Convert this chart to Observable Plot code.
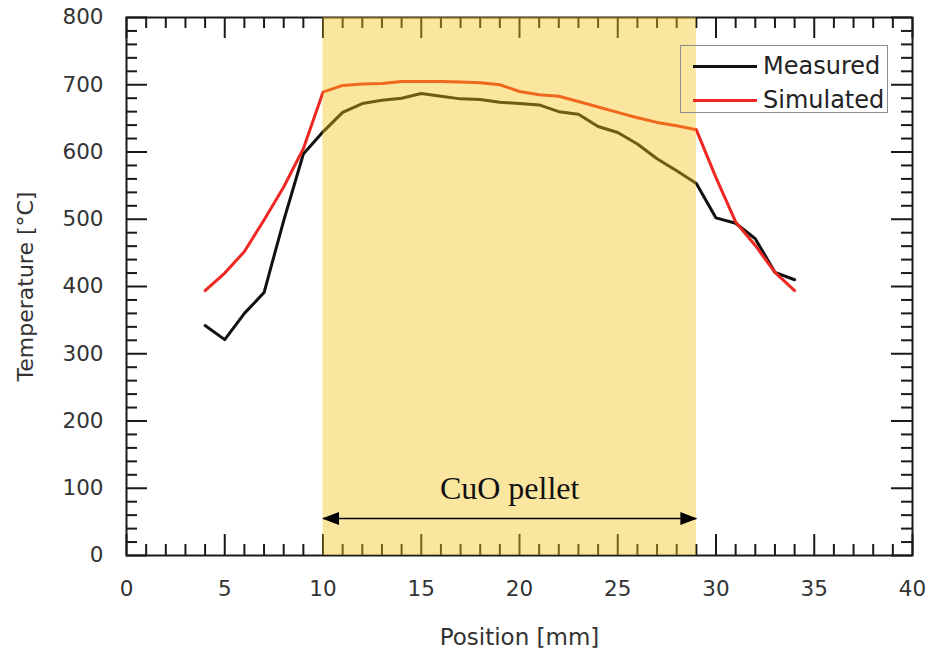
<!DOCTYPE html>
<html>
<head>
<meta charset="utf-8">
<script src="https://cdn.jsdelivr.net/npm/d3@7"></script>
<script src="https://cdn.jsdelivr.net/npm/@observablehq/plot@0.6"></script>
<style>
  html, body { margin: 0; padding: 0; background: #fff; }
  #wrap { position: relative; width: 929px; height: 653px; }
  #legend {
    position: absolute; left: 680px; top: 45px; width: 208px; height: 68px;
    box-sizing: border-box; border: 1.5px solid #8c8c8c;
    font-family: "DejaVu Sans", sans-serif; font-size: 24px; color: #222;
  }
  #legend .row { position: absolute; left: 0; right: 0; height: 34px; }
  #legend .sw { position: absolute; left: 12px; top: 15.5px; width: 64px; height: 0; border-top: 3px solid; }
  #legend .lab { position: absolute; left: 82px; top: 0; line-height: 34px; white-space: nowrap; }
</style>
</head>
<body>
<div id="wrap"></div>
<script>
// ---- data ----
const positions = [4, 5, 6, 7, 8, 9, 10, 11, 12, 13, 14, 15, 16, 17, 18, 19, 20, 21, 22, 23, 24, 25, 26, 27, 28, 29, 30, 31, 32, 33, 34];
const measured  = [342, 321, 360, 391, 498, 597, 630, 659, 672, 677, 680, 687, 683, 679, 678, 674, 672, 670, 660, 656, 638, 629, 612, 590, 572, 553, 502, 494, 471, 421, 410];
const simulated = [394, 420, 452, 499, 548, 605, 689, 699, 701, 702, 705, 705, 705, 704, 703, 700, 690, 685, 683, 675, 667, 659, 651, 644, 639, 633, 562, 496, 461, 421, 394];
const seriesNames = ["Measured", "Simulated"];
const seriesColors = ["#111111", "#ee2722"];

// CuO pellet region annotation
const pelletStart = 10;
const pelletEnd = 29;
const pelletArrowTemp = 55;
const pelletLabelTemp = 100;
const pelletLabel = "CuO pellet";

// axis ticks
const xTickLabels = [0, 5, 10, 15, 20, 25, 30, 35, 40];
const yTickLabels = [0, 100, 200, 300, 400, 500, 600, 700, 800];
const xMinorTicks = d3.range(0, 41, 1).filter(v => v % 5 !== 0);
const yMinorTicks = d3.range(0, 801, 20).filter(v => v % 100 !== 0);
const xLabel = "Position [mm]";
const yLabel = "Temperature [°C]";

// ---- build table ----
const rows = positions.map((p, i) => ({pos: p, measured: measured[i], simulated: simulated[i]}));
const pellet = [{x1: pelletStart, x2: pelletEnd, mid: (pelletStart + pelletEnd) / 2,
                 arrowY: pelletArrowTemp, labelY: pelletLabelTemp, text: pelletLabel}];

function triangleMarker(color) {
  const m = d3.create("svg:marker")
    .attr("viewBox", "0 -6.5 17 13")
    .attr("markerWidth", 17).attr("markerHeight", 13)
    .attr("markerUnits", "userSpaceOnUse")
    .attr("refX", 16).attr("refY", 0)
    .attr("orient", "auto-start-reverse");
  m.append("path").attr("d", "M0,-6.5L17,0L0,6.5Z").attr("fill", color).attr("stroke", "none");
  return m.node();
}

// layout
const W = 929, H = 653, ML = 126, MR = 17, MT = 17, MB = 98;
const frameW = W - ML - MR, frameH = H - MT - MB;
const MAJOR = 21, MINOR = 11;

// inward tick marks on all four sides: rules spanning the frame, inset to tick length
const axisColor = "#1a1a1a";
const tickStyle = {stroke: axisColor, strokeWidth: 2};
const tickMarks = [];
for (const [data, len] of [[xTickLabels, MAJOR], [xMinorTicks, MINOR]]) {
  tickMarks.push(Plot.ruleX(data, {x: d => d, insetTop: frameH - len, ...tickStyle}));
  tickMarks.push(Plot.ruleX(data, {x: d => d, insetBottom: frameH - len, ...tickStyle}));
}
for (const [data, len] of [[yTickLabels, MAJOR], [yMinorTicks, MINOR]]) {
  tickMarks.push(Plot.ruleY(data, {y: d => d, insetRight: frameW - len, ...tickStyle}));
  tickMarks.push(Plot.ruleY(data, {y: d => d, insetLeft: frameW - len, ...tickStyle}));
}

const chart = Plot.plot({
  width: W,
  height: H,
  marginLeft: ML,
  marginRight: MR,
  marginTop: MT,
  marginBottom: MB,
  x: {domain: [0, 40]},
  y: {domain: [0, 800]},
  style: {fontFamily: "DejaVu Sans, sans-serif", background: "white", color: "#333", overflow: "visible"},
  marks: [
    ...tickMarks,
    Plot.frame({stroke: axisColor, strokeWidth: 2}),
    Plot.axisX({anchor: "bottom", ticks: xTickLabels, tickSize: 0, tickPadding: 25, fontSize: 21.5, fill: "#333", tickFormat: d => String(d), label: null}),
    Plot.axisY({anchor: "left", ticks: yTickLabels, tickSize: 0, tickPadding: 23, fontSize: 21.5, fill: "#333", tickFormat: d => String(d), label: null}),
    Plot.axisX({anchor: "bottom", ticks: [], tickSize: 0, fontSize: 23, fill: "#333", label: xLabel, labelAnchor: "center", labelOffset: 89, labelArrow: "none"}),
    Plot.axisY({anchor: "left", ticks: [], tickSize: 0, fontSize: 22, fill: "#333", label: yLabel, labelAnchor: "center", labelOffset: 109, labelArrow: "none", dy: 10}),
    Plot.line(rows, {x: "pos", y: "measured", stroke: seriesColors[0], strokeWidth: 3}),
    Plot.line(rows, {x: "pos", y: "simulated", stroke: seriesColors[1], strokeWidth: 3}),
    Plot.rect(pellet, {x1: "x1", x2: "x2", fill: "#f2c31a", fillOpacity: 0.42}),
    Plot.link(pellet, {x1: "x1", x2: "x2", y1: "arrowY", y2: "arrowY", stroke: "#000", strokeWidth: 1.5,
                       markerStart: triangleMarker, markerEnd: triangleMarker}),
    Plot.text(pellet, {x: "mid", y: "labelY", text: "text", fontFamily: "Liberation Serif, serif", fontSize: 32, fill: "#111"})
  ]
});

const wrap = document.getElementById("wrap");
wrap.appendChild(chart);

// legend (inside the plot area, top-right)
const legend = document.createElement("div");
legend.id = "legend";
seriesNames.forEach((name, i) => {
  const row = document.createElement("div");
  row.className = "row";
  row.style.top = (3 + i * 34) + "px";
  const sw = document.createElement("div");
  sw.className = "sw";
  sw.style.borderTopColor = seriesColors[i];
  const lab = document.createElement("div");
  lab.className = "lab";
  lab.textContent = name;
  row.appendChild(sw);
  row.appendChild(lab);
  legend.appendChild(row);
});
wrap.appendChild(legend);
</script>
</body>
</html>
